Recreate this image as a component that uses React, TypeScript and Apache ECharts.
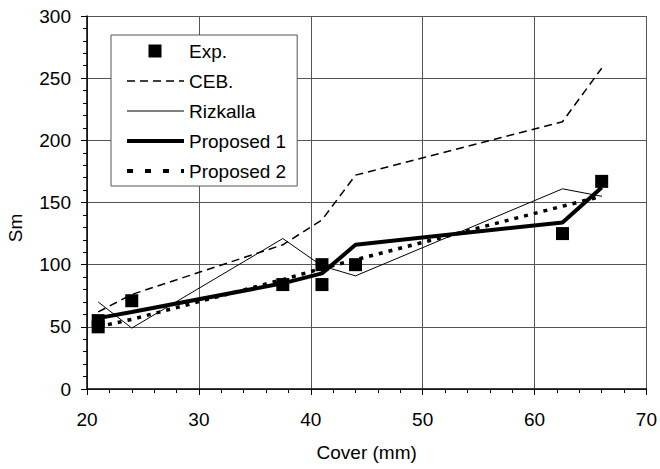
import React, { useEffect, useRef } from "react";
import * as echarts from "echarts";

const lineX = [21, 24, 37.5, 41, 44, 62.5, 66];
const ceb = [62, 76, 116, 136, 172, 215, 258];
const rizkalla = [70, 49, 121, 99, 91, 161, 155];
const proposed1 = [57, 62, 85, 93, 116, 134, 162];
const proposed2 = [50, 56, 88, 97, 104, 147, 155];

const expX = [21, 21, 24, 37.5, 41, 41, 44, 62.5, 66];
const expY = [50, 55, 71, 84, 100, 84, 100, 125, 167];

const xTicks = [20, 30, 40, 50, 60, 70];
const yTicks = [0, 50, 100, 150, 200, 250, 300];

const FONT = "Arial, 'Liberation Sans', sans-serif";

export default function App() {
  const ref = useRef<HTMLDivElement>(null);
  useEffect(() => {
    if (!ref.current) return;
    const chart = echarts.init(ref.current, null, { renderer: "svg" });
    const pair = (xs: number[], ys: number[]) => xs.map((x, i) => [x, ys[i]]);
    const hidden = { color: "rgba(0,0,0,0)", borderWidth: 0, opacity: 0 };
    chart.setOption({
      animation: false,
      backgroundColor: "#ffffff",
      textStyle: { fontFamily: FONT, color: "#000" },
      grid: { left: 87, right: 12, top: 16, bottom: 80, containLabel: false },
      legend: {
        orient: "vertical",
        left: 111,
        top: 35,
        padding: [6, 11, 5, 14],
        backgroundColor: "#fff",
        borderColor: "#555",
        borderWidth: 1,
        borderRadius: 0,
        itemWidth: 57,
        itemHeight: 14,
        itemGap: 10,
        textStyle: { fontFamily: FONT, fontSize: 19, color: "#000", lineHeight: 20 },
        data: [
          {
            name: "Exp.",
            icon: "path://M0,0L0,0M21.5,0.5h13v13h-13zM57,14L57,14",
            itemStyle: { color: "#000", opacity: 1 },
          },
          { name: "CEB.", itemStyle: hidden, lineStyle: { color: "#000", width: 1.5, type: [8, 5] } },
          { name: "Rizkalla", itemStyle: hidden, lineStyle: { color: "#000", width: 1 } },
          { name: "Proposed 1", itemStyle: hidden, lineStyle: { color: "#000", width: 4 } },
          { name: "Proposed 2", itemStyle: hidden, lineStyle: { color: "#000", width: 4, type: [6, 12] } },
        ],
      },
      xAxis: {
        type: "value",
        min: xTicks[0],
        max: xTicks[xTicks.length - 1],
        interval: 10,
        name: "Cover (mm)",
        nameLocation: "middle",
        nameGap: 54,
        nameTextStyle: { fontFamily: FONT, fontSize: 19, color: "#000" },
        axisLine: { show: true, onZero: false, lineStyle: { color: "#000", width: 1.5 } },
        axisTick: { show: true, inside: false, length: 6, lineStyle: { color: "#000" } },
        minorTick: { show: true, splitNumber: 5, length: 4, lineStyle: { color: "#000" } },
        axisLabel: { margin: 21, fontFamily: FONT, fontSize: 19, color: "#000" },
        splitLine: { show: true, lineStyle: { color: "#555", width: 1 } },
      },
      yAxis: {
        type: "value",
        min: yTicks[0],
        max: yTicks[yTicks.length - 1],
        interval: 50,
        axisLine: { show: true, onZero: false, lineStyle: { color: "#000", width: 1.5 } },
        axisTick: { show: true, inside: false, length: 6, lineStyle: { color: "#000" } },
        minorTick: { show: true, splitNumber: 5, length: 4, lineStyle: { color: "#000" } },
        axisLabel: { margin: 16, fontFamily: FONT, fontSize: 19, color: "#000" },
        splitLine: { show: true, lineStyle: { color: "#555", width: 1 } },
      },
      graphic: [
        {
          type: "text",
          x: 15.5,
          y: 228,
          rotation: Math.PI / 2,
          style: {
            text: "Sm",
            fontFamily: FONT,
            fontSize: 19,
            fill: "#000",
            align: "center",
            verticalAlign: "middle",
          },
        },
      ],
      series: [
        {
          name: "CEB.",
          type: "line",
          symbol: "none",
          data: pair(lineX, ceb),
          lineStyle: { color: "#000", width: 1.5, type: [8, 5] },
          itemStyle: { color: "#000" },
          z: 3,
        },
        {
          name: "Rizkalla",
          type: "line",
          symbol: "none",
          data: pair(lineX, rizkalla),
          lineStyle: { color: "#000", width: 1 },
          itemStyle: { color: "#000" },
          z: 3,
        },
        {
          name: "Proposed 1",
          type: "line",
          symbol: "none",
          data: pair(lineX, proposed1),
          lineStyle: { color: "#000", width: 4 },
          itemStyle: { color: "#000" },
          z: 4,
        },
        {
          name: "Proposed 2",
          type: "line",
          symbol: "none",
          data: pair(lineX, proposed2),
          lineStyle: { color: "#000", width: 3.5, type: [4, 6] },
          itemStyle: { color: "#000" },
          z: 4,
        },
        {
          name: "Exp.",
          type: "scatter",
          symbol: "rect",
          symbolSize: 13,
          data: pair(expX, expY),
          itemStyle: { color: "#000", opacity: 1 },
          z: 5,
        },
      ],
    });
    return () => chart.dispose();
  }, []);
  return (
    <div
      ref={ref}
      style={{ position: "absolute", left: 0, top: 0, width: 660, height: 469 }}
    />
  );
}
